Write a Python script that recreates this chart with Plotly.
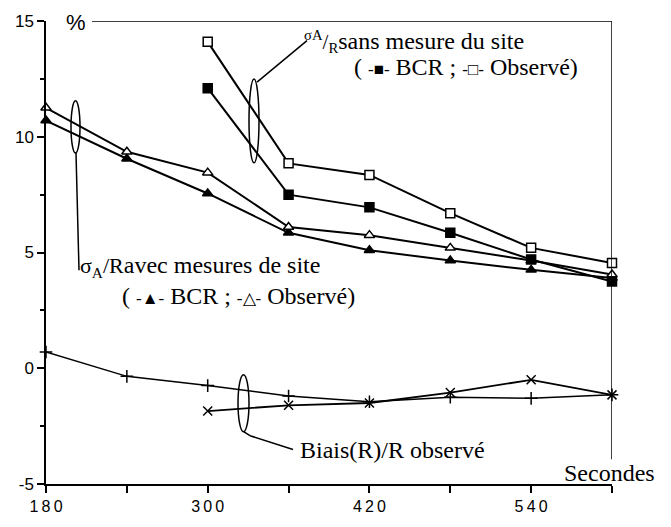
import plotly.graph_objects as go

# ---- data ----
x_all = [180, 240, 300, 360, 420, 480, 540, 600]
x_sans = [300, 360, 420, 480, 540, 600]
avec_bcr = [10.7, 9.05, 7.55, 5.85, 5.1, 4.65, 4.25, 3.9]
avec_obs = [11.25, 9.35, 8.45, 6.1, 5.75, 5.2, 4.65, 4.05]
sans_bcr = [12.1, 7.5, 6.95, 5.85, 4.7, 3.75]
sans_obs = [14.1, 8.85, 8.35, 6.7, 5.2, 4.55]
biais_a = [0.7, -0.35, -0.75, -1.2, -1.45, -1.25, -1.3, -1.15]
biais_b = [-1.85, -1.6, -1.5, -1.05, -0.5, -1.15]
x_tickvals = [180, 240, 300, 360, 420, 480, 540, 600]
x_ticktext = ["1\u20098\u20090", "", "3\u20090\u20090", "", "4\u20092\u20090", "", "5\u20094\u20090", ""]
y_tickvals = [-5, 0, 5, 10, 15]
y_ticktext = ["-5", "0", "5", "10", "15"]

W, H = 671, 527
L, R, T, B = 46, 59, 17, 40
XMIN, XMAX, YMIN, YMAX = 180, 600, -5, 15

def X(px):
    return XMIN + (px - L) * (XMAX - XMIN) / (W - L - R)

def Y(py):
    return YMAX - (py - T) * (YMAX - YMIN) / (H - T - B)

def PX(px):
    return (px - L) / (W - L - R)

def PY(py):
    return (H - B - py) / (H - T - B)

fig = go.Figure()

def add(xs, ys, symbol, fill, size=9, lw=2):
    fig.add_trace(go.Scatter(
        x=xs, y=ys, mode="lines+markers", cliponaxis=False,
        line=dict(color="black", width=lw),
        marker=dict(symbol=symbol, size=size, color=fill,
                    line=dict(color="black", width=1.5)),
        showlegend=False, hoverinfo="skip"))

add(x_all, avec_bcr, "triangle-up", "black")
add(x_all, avec_obs, "triangle-up", "white")
add(x_sans, sans_bcr, "square", "black")
add(x_sans, sans_obs, "square", "white")
add(x_all, biais_a, "cross-thin", "black", size=9, lw=1.5)
add(x_sans, biais_b, "x-thin", "black", size=9, lw=1.8)

serif = "Liberation Serif, Times New Roman, serif"
sans = "Liberation Sans, Arial, sans-serif"

shapes = []
# frame lines (top and right)
shapes.append(dict(type="line", xref="x", yref="y", x0=X(92), x1=600, y0=15, y1=15,
                   line=dict(color="black", width=1.5)))
shapes.append(dict(type="line", xref="x", yref="y", x0=600, x1=600, y0=Y(462), y1=15,
                   line=dict(color="black", width=1.5)))
# ellipses
def ell(px0, px1, py0, py1):
    shapes.append(dict(type="circle", xref="x", yref="y", x0=X(px0), x1=X(px1),
                       y0=Y(py1), y1=Y(py0), line=dict(color="black", width=1.5)))
ell(71, 80, 98, 151)
ell(249, 259, 76, 161)
ell(238, 249, 376, 434)
# leader lines
def seg(ax, ay, bx, by):
    shapes.append(dict(type="line", xref="x", yref="y", x0=X(ax), y0=Y(ay), x1=X(bx), y1=Y(by),
                       line=dict(color="black", width=1.5)))
seg(76, 151, 79, 270)
seg(257, 79, 307, 37)
seg(244, 434, 250, 438)
seg(250, 438, 293, 452)

ann = []
def txt(px, py, s, size=24, font=serif, anchor="left"):
    ann.append(dict(x=PX(px), y=PY(py), xref="paper", yref="paper", text=s, showarrow=False,
                    xanchor=anchor, yanchor="middle",
                    font=dict(family=font, size=size, color="black")))

mk = "<span style='font-size:17px'>-{}-</span>"
sig = "<span style='font-size:22px'>σ<sub>A</sub>/R</span>"
txt(78, 266, sig + "avec mesures de site")
txt(120, 296, "( " + mk.format("▲") + " BCR ; " + mk.format("△") + " Observé)")
txt(302, 38, "<span style='font-size:21px'><sup>σA</sup>/<sub>R</sub></span>sans mesure du site")
txt(352, 64, "( " + mk.format("■") + " BCR ; " + mk.format("□") + " Observé)")
txt(298, 452, "Biais(R)/R observé")
txt(562, 476, "Secondes")
txt(64, 19, "%", size=22, font=sans)

fig.update_layout(
    width=W, height=H, margin=dict(l=L, r=R, t=T, b=B),
    paper_bgcolor="white", plot_bgcolor="white",
    shapes=shapes, annotations=ann,
    xaxis=dict(range=[XMIN, XMAX], showgrid=False, zeroline=False,
               showline=True, linecolor="black", linewidth=1.5,
               ticks="outside", ticklen=7, tickwidth=1.5, tickcolor="black",
               tickvals=x_tickvals, ticktext=x_ticktext,
               tickfont=dict(family=sans, size=16, color="black")),
    yaxis=dict(range=[YMIN, YMAX], showgrid=False, zeroline=False,
               showline=True, linecolor="black", linewidth=1.5,
               ticks="outside", ticklen=7, tickwidth=1.5, tickcolor="black",
               tickvals=y_tickvals, ticktext=y_ticktext,
               tickfont=dict(family=sans, size=17, color="black"),
               minor=dict(tickvals=[-2.5, 2.5, 7.5, 12.5], ticks="outside",
                          ticklen=4, tickwidth=1.5, tickcolor="black")),
)

fig.write_html("out.html", config={"displayModeBar": False},
               post_script="document.body.style.margin='0px';document.body.style.overflow='hidden';")
